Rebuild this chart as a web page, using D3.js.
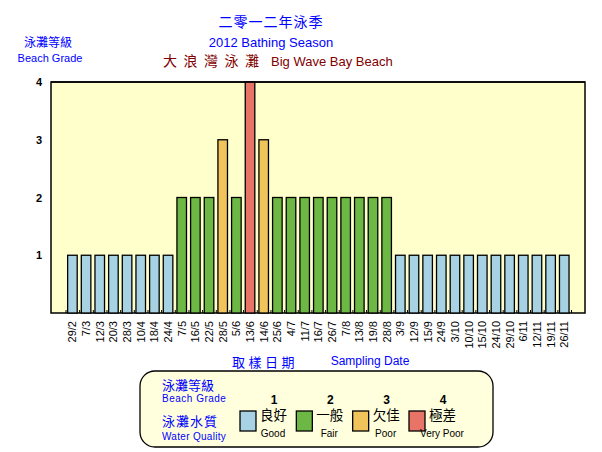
<!DOCTYPE html>
<html><head><meta charset="utf-8">
<script src="https://cdn.jsdelivr.net/npm/d3@7"></script>
<style>body{margin:0;background:#fff;} text{font-family:Arial,"Liberation Sans","Noto Sans CJK TC",sans-serif;}</style>
</head><body><svg id="c" width="602" height="452"></svg>
<script>
const dates = ["29/2","7/3","12/3","20/3","28/3","10/4","18/4","24/4","7/5","16/5","22/5","28/5","5/6","13/6","14/6","25/6","4/7","11/7","16/7","26/7","7/8","13/8","19/8","28/8","3/9","12/9","15/9","24/9","3/10","10/10","15/10","24/10","29/10","6/11","12/11","19/11","26/11"];
const grades = [1,1,1,1,1,1,1,1,2,2,2,3,2,4,3,2,2,2,2,2,2,2,2,2,1,1,1,1,1,1,1,1,1,1,1,1,1];
const yTicks = [1,2,3,4];
const gradeNums = [1,2,3,4];
const gradeZh = ["良好","一般","欠佳","極差"];
const gradeEn = ["Good","Fair","Poor","Very Poor"];
const gradeColors = ["#a6d2e4","#6db845","#f0c35b","#e87468"];

const svg = d3.select("#c");
const plot = {l:51, t:82, r:585, b:313};
const x = d3.scaleBand().domain(dates).range([66, 571.5]).padding(0);
const y = d3.scaleLinear().domain([0,4]).range([plot.b, plot.t]);
const color = d3.scaleOrdinal().domain(gradeNums).range(gradeColors);

svg.append("rect").attr("x",plot.l).attr("y",plot.t).attr("width",plot.r-plot.l).attr("height",plot.b-plot.t)
  .attr("fill","#ffffcc").attr("stroke","#000").attr("stroke-width",1.5);

// x tick marks at band boundaries
const bounds = dates.map(d=>x(d)).concat([x(dates[dates.length-1])+x.bandwidth()]);
svg.append("g").selectAll("line").data(bounds).join("line")
  .attr("x1",d=>d).attr("x2",d=>d).attr("y1",plot.b).attr("y2",plot.b-3)
  .attr("stroke","#000").attr("stroke-width",1);

const bw = x.bandwidth();
svg.append("g").selectAll("rect").data(dates).join("rect")
  .attr("x",(d)=>x(d)+bw*0.12).attr("width",bw*0.7)
  .attr("y",(d,i)=>y(grades[i])).attr("height",(d,i)=>plot.b-y(grades[i]))
  .attr("fill",(d,i)=>color(grades[i])).attr("stroke","#000").attr("stroke-width",1.3);

svg.append("line").attr("x1",plot.l).attr("x2",plot.r).attr("y1",plot.t).attr("y2",plot.t).attr("stroke","#000").attr("stroke-width",1.5);

// y labels
svg.append("g").selectAll("text").data(yTicks).join("text")
  .attr("x",39).attr("y",d=>y(d)+4).attr("text-anchor","middle")
  .attr("font-size",11).attr("font-weight","bold").text(d=>d);

// x labels
svg.append("g").selectAll("text").data(dates).join("text")
  .attr("transform",d=>`translate(${x(d)+bw*0.47+4},321) rotate(-90)`)
  .attr("text-anchor","end").attr("font-size",11).text(d=>d);

// titles
svg.append("text").attr("x",271).attr("y",27).attr("text-anchor","middle").attr("font-size",14).attr("fill","#0000ff").attr("letter-spacing",1).text("二零一二年泳季");
svg.append("text").attr("x",271).attr("y",47).attr("text-anchor","middle").attr("font-size",13).attr("fill","#0000ff").text("2012 Bathing Season");
svg.append("text").attr("x",163).attr("y",66).attr("font-size",14).attr("fill","#800000").attr("letter-spacing",6.5).text("大浪灣泳灘");
svg.append("text").attr("x",271).attr("y",66).attr("font-size",13).attr("fill","#800000").text("Big Wave Bay Beach");
svg.append("text").attr("x",48).attr("y",47).attr("text-anchor","middle").attr("font-size",12).attr("fill","#0000ff").text("泳灘等級");
svg.append("text").attr("x",50).attr("y",62).attr("text-anchor","middle").attr("font-size",11).attr("fill","#0000ff").text("Beach Grade");
svg.append("text").attr("x",232).attr("y",367).attr("font-size",13).attr("fill","#0000ff").attr("letter-spacing",3.5).text("取樣日期");
svg.append("text").attr("x",370).attr("y",365).attr("text-anchor","middle").attr("font-size",12).attr("fill","#0000ff").text("Sampling Date");

// legend
const lg = svg.append("g");
lg.append("rect").attr("x",140).attr("y",371).attr("width",353).attr("height",76).attr("rx",15).attr("ry",15)
  .attr("fill","#ffffdd").attr("stroke","#000").attr("stroke-width",1.3);
lg.append("text").attr("x",162).attr("y",390).attr("font-size",13).attr("fill","#0000ff").text("泳灘等級");
lg.append("text").attr("x",162).attr("y",402).attr("font-size",10).attr("fill","#0000ff").attr("letter-spacing",0.5).text("Beach Grade");
lg.append("text").attr("x",162).attr("y",426).attr("font-size",13).attr("fill","#0000ff").attr("letter-spacing",1).text("泳灘水質");
lg.append("text").attr("x",162).attr("y",440).attr("font-size",10).attr("fill","#0000ff").attr("letter-spacing",0.3).text("Water Quality");
const lx = d3.scaleLinear().domain([1,4]).range([240,409]);
const items = lg.selectAll("g.it").data(gradeNums).join("g").attr("class","it");
items.append("rect").attr("x",d=>lx(d)).attr("y",411).attr("width",16).attr("height",20)
  .attr("fill",d=>color(d)).attr("stroke","#000").attr("stroke-width",1.3);
items.append("text").attr("x",d=>lx(d)+34).attr("y",404).attr("text-anchor","middle").attr("font-size",12).attr("font-weight","bold").text(d=>d);
items.append("text").attr("x",d=>lx(d)+20).attr("y",420).attr("font-size",13.5).text((d,i)=>gradeZh[i]);
items.append("text").attr("x",d=>lx(d)+33).attr("y",437).attr("text-anchor","middle").attr("font-size",10).text((d,i)=>gradeEn[i]);
</script></body></html>
